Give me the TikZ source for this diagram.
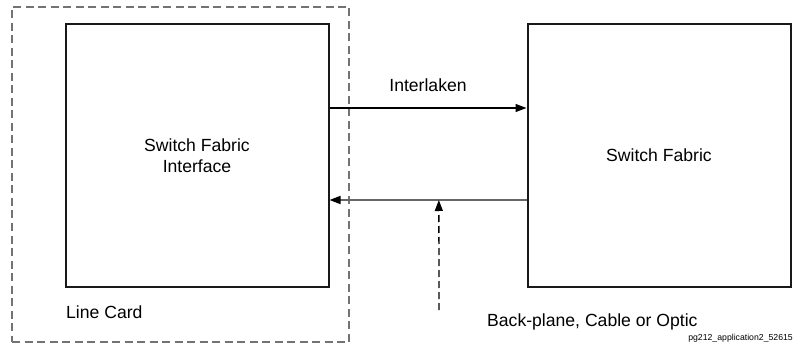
\documentclass[tikz,border=0pt]{standalone}
\usepackage{fontspec}
\setmainfont{Liberation Sans}
\usetikzlibrary{arrows.meta}
\begin{document}
\begin{tikzpicture}[x=1pt,y=-1pt,
  block/.style={draw=black!90,line width=2pt,minimum width=263pt,minimum height=262pt,
    inner sep=0pt,align=center,font=\fontsize{17.6}{21}\selectfont},
  cardbox/.style={draw=black!55,line width=1.3pt,dash pattern=on 8pt off 4.5pt,
    minimum width=337pt,minimum height=335pt,inner sep=0pt},
  link/.style={line width=1.2pt,-{Triangle[length=11pt,width=8pt,color=black]}},
  lbl/.style={inner sep=0pt,font=\fontsize{17.6}{21}\selectfont},
  tag/.style={inner sep=0pt,font=\fontsize{8.7}{10}\selectfont}]
  \useasboundingbox (0,0) rectangle (793,350);
  % line card outline and the two main blocks
  \node[cardbox] (card) at (180.5,174.5) {};
  \node[block] (sfi) at (197,155.5) {Switch Fabric\\Interface};
  \node[block] (sf) at (659,155.5) {Switch Fabric};
  % Interlaken links
  \draw[link] ([yshift=47.5pt]sfi.east) -- ([yshift=47.5pt]sfi.east -| sf.west)
    node[lbl,midway,above=16pt] (ilk) {Interlaken};
  \draw[link,draw=black!60,line width=1.6pt] ([yshift=-44.5pt]sf.west) -- ([yshift=-44.5pt]sf.west -| sfi.east)
    coordinate[pos=0.445] (tap);
  % physical medium pointer
  \coordinate (medium) at (439,310);
  \draw[line width=1.3pt,dash pattern=on 7pt off 4pt,-{Triangle[length=11pt,width=8pt]}]
    (medium) -- (tap);
  % labels
  \node[lbl,anchor=west] (lclbl) at (66,312) {Line Card};
  \node[lbl,anchor=west] (bplbl) at (487,322) {Back-plane, Cable or Optic};
  \node[tag,anchor=east] (fig) at (793,338) {pg212\_application2\_52615};
\end{tikzpicture}
\end{document}
